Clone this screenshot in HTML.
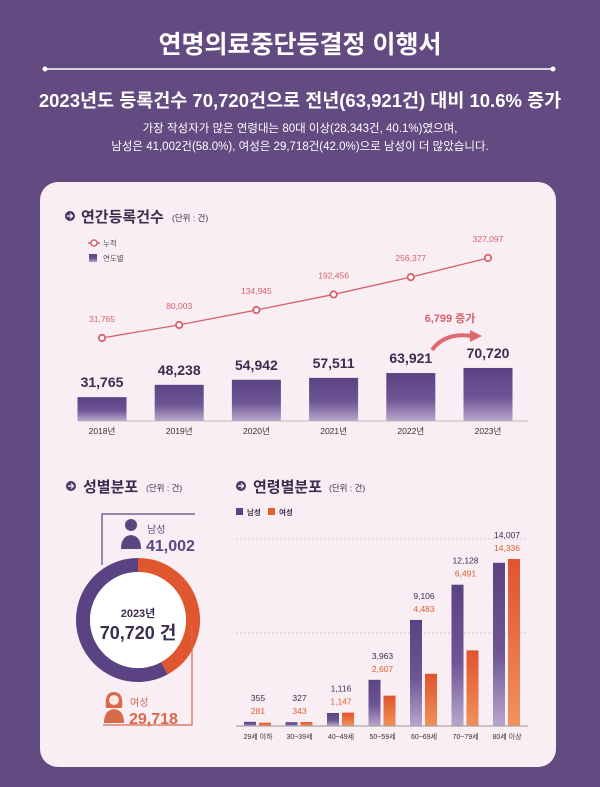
<!DOCTYPE html>
<html><head><meta charset="utf-8">
<style>
html,body{margin:0;padding:0;background:#634a80;}
svg{display:block;font-family:"Liberation Sans","Noto Sans CJK KR",sans-serif;}
</style></head>
<body>
<svg id="root" width="600" height="787" viewBox="0 0 600 787">
<defs>
<linearGradient id="pg" x1="0" y1="0" x2="0" y2="1"><stop offset="0" stop-color="#5b4282"/><stop offset="0.55" stop-color="#6e5595"/><stop offset="1" stop-color="#b9a6cc"/></linearGradient>
<linearGradient id="og" x1="0" y1="0" x2="0" y2="1"><stop offset="0" stop-color="#e0532e"/><stop offset="1" stop-color="#f0925a"/></linearGradient>
</defs>
<rect x="0" y="0" width="600" height="787" fill="#634a80"/>
<text x="300" y="53" text-anchor="middle" font-size="25" font-weight="bold" fill="#fff">연명의료중단등결정 이행서</text>
<line x1="45" y1="69" x2="553" y2="69" stroke="#fff" stroke-width="1.5"/>
<circle cx="45" cy="69" r="2.5" fill="#fff"/>
<circle cx="553" cy="69" r="2.5" fill="#fff"/>
<text x="300" y="107" text-anchor="middle" font-size="18.5" font-weight="bold" fill="#fff">2023년도 등록건수 70,720건으로 전년(63,921건) 대비 10.6% 증가</text>
<text x="300" y="132" text-anchor="middle" font-size="11.5" fill="#fff">가장 작성자가 많은 연령대는 80대 이상(28,343건, 40.1%)였으며,</text>
<text x="300" y="150" text-anchor="middle" font-size="11.5" fill="#fff">남성은 41,002건(58.0%), 여성은 29,718건(42.0%)으로 남성이 더 많았습니다.</text>

<rect x="40" y="182" width="516" height="585" rx="18" fill="#f8eef3"/>

<g>
<circle cx="70" cy="216" r="5" fill="#4a3866"/><path d="M67 216h5M70 213.5l2.5 2.5-2.5 2.5" stroke="#fff" stroke-width="1.2" fill="none"/>
<text x="81" y="222" font-size="15" font-weight="bold" fill="#3a2d50">연간등록건수</text>
<text x="172" y="221" font-size="8.5" fill="#3a2d50">(단위 : 건)</text>
</g>
<g>
<circle cx="71" cy="486" r="5" fill="#4a3866"/><path d="M68 486h5M71 483.5l2.5 2.5-2.5 2.5" stroke="#fff" stroke-width="1.2" fill="none"/>
<text x="83" y="492" font-size="15" font-weight="bold" fill="#3a2d50">성별분포</text>
<text x="146" y="491" font-size="8.5" fill="#3a2d50">(단위 : 건)</text>
</g>
<g>
<circle cx="241" cy="486" r="5" fill="#4a3866"/><path d="M238 486h5M241 483.5l2.5 2.5-2.5 2.5" stroke="#fff" stroke-width="1.2" fill="none"/>
<text x="253" y="492" font-size="15" font-weight="bold" fill="#3a2d50">연령별분포</text>
<text x="329" y="491" font-size="8.5" fill="#3a2d50">(단위 : 건)</text>
</g>

<g>
<line x1="88" y1="243" x2="100" y2="243" stroke="#d9606a" stroke-width="1.5"/><circle cx="94" cy="243" r="3" fill="#fff" stroke="#d9606a" stroke-width="1.5"/>
<text x="103" y="246" font-size="7.5" fill="#555">누적</text></g>
<g>
<rect x="89" y="254" width="8" height="8" fill="url(#pg)"/><text x="103" y="261" font-size="7.5" fill="#555">연도별</text></g>

<g id="annual"></g>
<line x1="78" y1="421" x2="528" y2="421" stroke="#bbb" stroke-width="1"/>
<text x="450" y="322" text-anchor="middle" font-size="11" font-weight="bold" fill="#d9606a">6,799 증가</text>
<g>
<path d="M432 350 Q445 332 472 336" stroke="#e06a6e" stroke-width="4" fill="none"/>
<path d="M470 330 L482 336 L470 342 Z" fill="#e06a6e"/></g>

<g id="donut"></g>
<text x="138" y="617" text-anchor="middle" font-size="11" font-weight="bold" fill="#3a2d50">2023년</text>
<text x="138" y="639" text-anchor="middle" font-size="18" font-weight="bold" fill="#3a2d50">70,720 건</text>
<path d="M102 565 V514 H195" stroke="#5a4680" stroke-width="1.2" fill="none"/>
<path d="M192 625 V725 H103" stroke="#d86a4c" stroke-width="1.2" fill="none"/>
<g fill="#5a4680">
<circle cx="131" cy="525" r="6"/><path d="M121 549 Q121 536 131 535 Q141 536 141 549 Z"/></g>
<text x="147" y="533" font-size="10" fill="#5a4680">남성</text>
<text x="146" y="551" font-size="16" font-weight="bold" fill="#5a4680">41,002</text>
<g fill="#d86a4c">
<path d="M106 708 Q104 692 114 692 Q124 692 122 708 Z"/><circle cx="114" cy="700" r="5" fill="#fbe7e0"/><path d="M104 723 Q104 710 114 709 Q124 710 124 723 Z"/></g>
<text x="130" y="706" font-size="10" fill="#d86a4c">여성</text>
<text x="129" y="724" font-size="16" font-weight="bold" fill="#d86a4c">29,718</text>

<g><rect x="236" y="508" width="7" height="7" fill="#5b4282"/><text x="247" y="515" font-size="7.5" font-weight="bold" fill="#3a2d50">남성</text></g>
<g><rect x="268" y="508" width="7" height="7" fill="#e0602e"/><text x="279" y="515" font-size="7.5" font-weight="bold" fill="#3a2d50">여성</text></g>
<line x1="236" y1="539" x2="528" y2="539" stroke="#ccc" stroke-dasharray="2,2"/>
<line x1="236" y1="633" x2="528" y2="633" stroke="#ccc" stroke-dasharray="2,2"/>
<g id="age"></g>
<line x1="236" y1="726" x2="528" y2="726" stroke="#999" stroke-width="1"/>
</svg>
<script>
const years = ['2018년','2019년','2020년','2021년','2022년','2023년'];
const yearly = [31765,48238,54942,57511,63921,70720];
const cumulative = [31765,80003,134945,192456,256377,327097];
const genderLabels = ['여성','남성'];
const genderValues = [29718,41002];
const ageGroups = ['29세 이하','30~39세','40~49세','50~59세','60~69세','70~79세','80세 이상'];
const maleByAge = [355,327,1116,3963,9106,12128,14007];
const femaleByAge = [281,343,1147,2607,4483,6491,14336];

const NS='http://www.w3.org/2000/svg';
function mk(tag,attrs,parent,txt){const e=document.createElementNS(NS,tag);for(const k in attrs)e.setAttribute(k,attrs[k]);if(txt!==undefined)e.textContent=txt;parent.appendChild(e);return e;}
const fmt=v=>v.toLocaleString('en-US');

const ag=document.getElementById('annual');
const xYear=i=>102+i*77.2;
const barH=v=>v*0.00075;
const lineY=v=>346.6-v*0.000271;
years.forEach((y,i)=>{
  const h=barH(yearly[i]);
  const b=mk('rect',{x:xYear(i)-24.5,y:421-h,width:49,height:h,fill:'url(#pg)'},ag);
  
  
  const t=mk('text',{x:xYear(i),y:421-h-10,'text-anchor':'middle','font-size':14,'font-weight':'bold',fill:'#3a2d50'},ag,fmt(yearly[i]));
  
  
  const xl=mk('text',{x:xYear(i),y:434,'text-anchor':'middle','font-size':8.5,fill:'#333'},ag,y);
  
  
});
const pl=mk('polyline',{points:cumulative.map((v,i)=>xYear(i)+','+lineY(v)).join(' '),fill:'none',stroke:'#d9606a','stroke-width':1.3},ag);


cumulative.forEach((v,i)=>{
  const c=mk('circle',{cx:xYear(i),cy:lineY(v),r:3.2,fill:'#fff',stroke:'#d9606a','stroke-width':1.8},ag);
  
  
  const t=mk('text',{x:xYear(i),y:lineY(v)-16,'text-anchor':'middle','font-size':8.5,fill:'#d9606a'},ag,fmt(v));
  
  
});

const dg=document.getElementById('donut');
const cx=138,cy=620,R=55,W=14;
const total=genderValues.reduce((a,b)=>a+b,0);
const colors=['#e0572f','#5b4282'];
let a0=-Math.PI/2;
genderValues.forEach((v,i)=>{
  const a1=a0+v/total*2*Math.PI;
  const large=(a1-a0)>Math.PI?1:0;
  const p=mk('path',{d:`M${cx+R*Math.cos(a0)} ${cy+R*Math.sin(a0)} A${R} ${R} 0 ${large} 1 ${cx+R*Math.cos(a1)} ${cy+R*Math.sin(a1)}`,fill:'none',stroke:colors[i],'stroke-width':W},dg);
  
  
  a0=a1;
});
mk('circle',{cx:cx,cy:cy,r:R-W/2,fill:'#fff'},dg);

const gg=document.getElementById('age');
const xAge=i=>258+i*41.5;
const ageH=v=>v*0.01165;
ageGroups.forEach((g,i)=>{
  const hm=ageH(maleByAge[i]),hf=ageH(femaleByAge[i]);
  const m=mk('rect',{x:xAge(i)-14,y:726-hm,width:12,height:hm,fill:'url(#pg)'},gg);
  
  
  const f=mk('rect',{x:xAge(i)+1,y:726-hf,width:12,height:hf,fill:'url(#og)'},gg);
  
  
  const top=726-Math.max(hm,hf);
  const tm=mk('text',{x:xAge(i),y:top-21,'text-anchor':'middle','font-size':8.5,fill:'#3a2d50'},gg,fmt(maleByAge[i]));
  
  
  const tf=mk('text',{x:xAge(i),y:top-8,'text-anchor':'middle','font-size':8.5,fill:'#e0602e'},gg,fmt(femaleByAge[i]));
  
  
  const xl=mk('text',{x:xAge(i),y:739,'text-anchor':'middle','font-size':7,fill:'#333'},gg,g);
  
  
});
</script>
</body></html>
